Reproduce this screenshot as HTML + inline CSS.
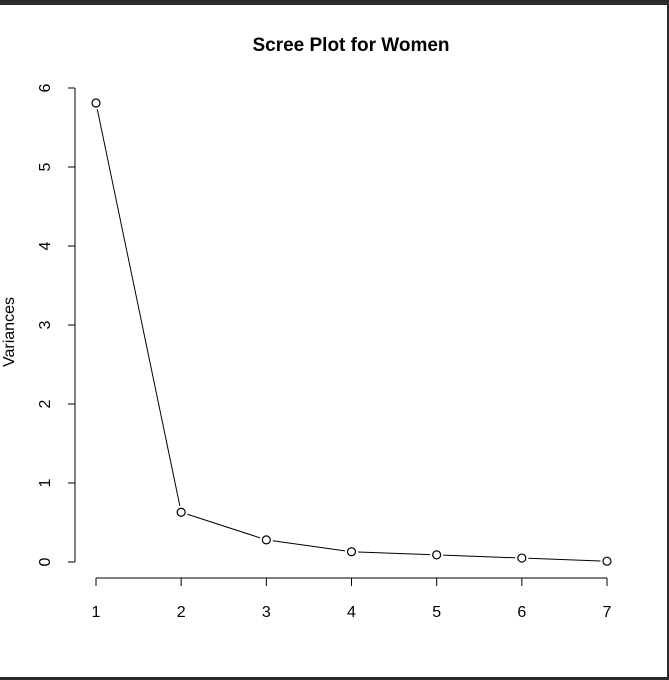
<!DOCTYPE html>
<html><head><meta charset="utf-8"><style>
html,body{margin:0;padding:0;background:#fff;}
body{width:669px;height:680px;overflow:hidden;position:relative;font-family:"Liberation Sans",sans-serif;}
</style></head><body>
<div style="position:absolute;left:0;top:0;width:669px;height:5px;background:#2b2b2b"></div>
<div style="position:absolute;left:667px;top:0;width:2px;height:680px;background:#2b2b2b"></div>
<div style="position:absolute;left:0;top:677px;width:669px;height:3px;background:#2b2b2b"></div>
<svg id="chart" width="669" height="680" style="position:absolute;left:0;top:0">
<text x="351" y="51" text-anchor="middle" font-size="19" font-weight="bold" font-family="Liberation Sans, sans-serif">Scree Plot for Women</text>
<text transform="translate(14,332) rotate(-90)" text-anchor="middle" font-size="16" font-family="Liberation Sans, sans-serif">Variances</text>
</svg>
<script>
const components=[1,2,3,4,5,6,7];
const variances=[5.81,0.63,0.28,0.13,0.09,0.05,0.01];
const yTicks=[0,1,2,3,4,5,6];
const xTicks=[1,2,3,4,5,6,7];
const svg=document.getElementById('chart');
const NS='http://www.w3.org/2000/svg';
const xs=v=>96+(v-1)*(607-96)/6;
const ys=v=>562-v*79;
function mk(t,a){const e=document.createElementNS(NS,t);for(const k in a)e.setAttribute(k,a[k]);svg.appendChild(e);return e;}
let e=mk('line',{x1:75,y1:ys(0),x2:75,y2:ys(6),stroke:'#000'});


yTicks.forEach(v=>{
 let t=mk('line',{x1:68,x2:75,y1:ys(v),y2:ys(v),stroke:'#000'});
 
 
 let l=mk('text',{transform:`translate(50,${ys(v)}) rotate(-90)`,'text-anchor':'middle','font-size':16,'font-family':'Liberation Sans, sans-serif'});
 l.textContent=v;
 
 
});
e=mk('line',{x1:xs(1),y1:578,x2:xs(7),y2:578,stroke:'#000'});


xTicks.forEach(v=>{
 let t=mk('line',{x1:xs(v),x2:xs(v),y1:578,y2:586,stroke:'#000'});
 
 
 let l=mk('text',{x:xs(v),y:617,'text-anchor':'middle','font-size':16,'font-family':'Liberation Sans, sans-serif'});
 l.textContent=v;
 
 
});
for(let i=0;i<components.length-1;i++){
 const x1=xs(components[i]),y1=ys(variances[i]),x2=xs(components[i+1]),y2=ys(variances[i+1]);
 const d=Math.hypot(x2-x1,y2-y1),r=6.5;
 let s=mk('line',{x1:x1+(x2-x1)*r/d,y1:y1+(y2-y1)*r/d,x2:x2-(x2-x1)*r/d,y2:y2-(y2-y1)*r/d,stroke:'#000'});
 
 
}
components.forEach((c,i)=>{
 let p=mk('circle',{cx:xs(c),cy:ys(variances[i]),r:4,fill:'none',stroke:'#000','stroke-width':1.2});
 
 
});
</script>
</body></html>
